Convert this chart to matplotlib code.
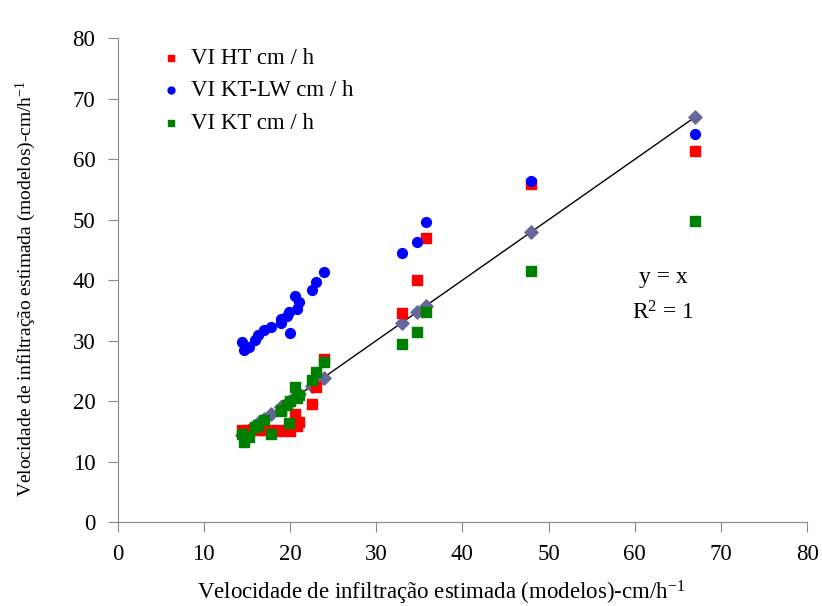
import numpy as np
import matplotlib.pyplot as plt

# observed infiltration velocity (x) and model estimates (y)
x_obs = [14.4, 14.7, 15.2, 15.9, 16.3, 17.0, 17.8, 19.0, 19.0, 19.7, 19.9, 20.0,
         20.6, 20.8, 21.1, 22.5, 23.0, 23.9, 33.0, 34.7, 35.8, 48.0, 67.0]
vi_ht = [15.2, 15.0, 15.2, 15.4, 15.3, 15.2, 15.2, 15.2, 15.1, 15.2, 15.2, 15.0,
         17.9, 15.9, 16.6, 19.6, 22.4, 27.0, 34.5, 40.0, 47.0, 55.9, 61.3]
vi_ktlw = [29.7, 28.4, 28.9, 30.1, 31.0, 31.7, 32.3, 33.6, 32.9, 34.1, 34.7, 31.3,
           37.4, 35.3, 36.4, 38.4, 39.7, 41.4, 44.5, 46.4, 49.7, 56.4, 64.2]
vi_kt = [14.6, 13.3, 14.0, 15.7, 16.0, 16.8, 14.6, 18.4, 18.6, 19.3, 16.3, 20.0,
         22.3, 20.5, 21.0, 23.5, 24.8, 26.4, 29.5, 31.5, 34.8, 41.5, 49.8]

plt.rcParams['font.family'] = ['Liberation Serif', 'DejaVu Serif']
plt.rcParams['mathtext.fontset'] = 'custom'
plt.rcParams['mathtext.rm'] = 'Liberation Serif'
plt.rcParams['mathtext.default'] = 'regular'

fig = plt.figure(figsize=(8.22, 6.06), dpi=100)
ax = fig.add_axes([0.143, 0.1386, 0.839, 0.798])

ax.plot(x_obs, x_obs, color='black', lw=1.0, zorder=2)
ax.scatter(x_obs, x_obs, marker='D', s=45, color='#666699', zorder=3)
ax.scatter(x_obs, vi_ht, marker='s', s=48, color='#ff0000', label='VI HT cm / h', zorder=4)
ax.scatter(x_obs, vi_ktlw, marker='o', s=50, color='#0000ff', label='VI KT-LW cm / h', zorder=4)
ax.scatter(x_obs, vi_kt, marker='s', s=48, color='#008000', label='VI KT cm / h', zorder=5)

ax.set_xlim(0, 80)
ax.set_ylim(0, 80)
ax.set_xticks(np.arange(0, 81, 10))
ax.set_yticks(np.arange(0, 81, 10))
for s in ['top', 'right']:
    ax.spines[s].set_visible(False)
for s in ['left', 'bottom']:
    ax.spines[s].set_color('#888888')
ax.tick_params(direction='out', length=7, color='#888888', labelsize=16.5)
ax.tick_params(axis='x', pad=9)
ax.tick_params(axis='y', pad=9)

ax.set_xlabel('Velocidade de infiltração estimada (modelos)-cm/h$^{-1}$', fontsize=16.5)
ax.set_ylabel('Velocidade de infiltração estimada (modelos)-cm/h$^{-1}$', fontsize=14)
ax.xaxis.set_label_coords(0.469, -0.118)
ax.yaxis.set_label_coords(-0.115, 0.483)

ax.text(63.3, 40.4, 'y = x', fontsize=17, ha='center', va='center')
ax.text(63.3, 34.6, 'R$^2$ = 1', fontsize=17, ha='center', va='center')

ax.legend(loc='upper left', bbox_to_anchor=(0.047, 1.0), frameon=False, fontsize=16.5,
          borderaxespad=0, handlelength=1.0, handletextpad=0.4, markerscale=0.7,
          labelspacing=0.5)

fig.savefig('out.png', dpi=100)
